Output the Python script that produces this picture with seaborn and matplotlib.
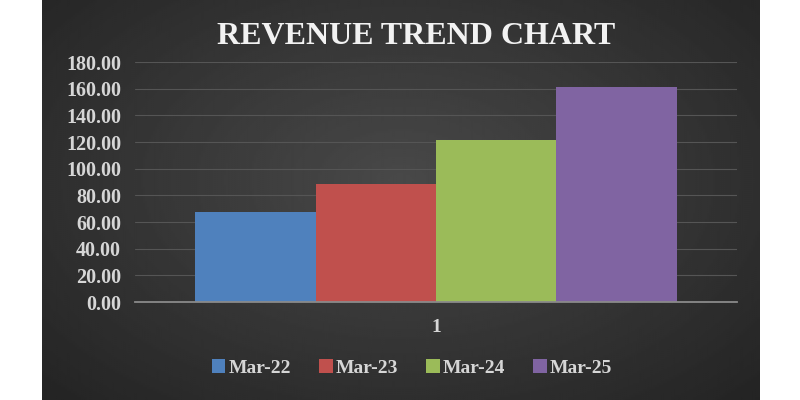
import numpy as np
import pandas as pd
import seaborn as sns
import matplotlib.pyplot as plt

# Data
months = ['Mar-22', 'Mar-23', 'Mar-24', 'Mar-25']
revenue = [67.3, 88.4, 121.4, 161.2]
group = ['1', '1', '1', '1']
colors = ['#4F81BD', '#C0504D', '#9BBB59', '#8064A2']
y_ticks = [0, 20, 40, 60, 80, 100, 120, 140, 160, 180]

df = pd.DataFrame({'group': group, 'month': months, 'revenue': revenue})

sns.set_theme(style='dark')
plt.rcParams['font.family'] = ['Liberation Serif', 'DejaVu Serif']
plt.rcParams['font.weight'] = 'bold'

fig = plt.figure(figsize=(8, 4), dpi=100, facecolor='white')

# dark radial background panel
bg = fig.add_axes([42 / 800, 0, 718 / 800, 1])
yy, xx = np.mgrid[0:1:200j, 0:1:360j]
r = np.sqrt(((xx - 0.5) / 0.5) ** 2 + ((yy - 0.45) / 0.55) ** 2) / np.sqrt(2)
r = np.clip(r, 0, 1)
shade = 0.285 * (1 - r) + 0.14 * r
bg.imshow(shade, cmap='gray', vmin=0, vmax=1, aspect='auto', interpolation='bilinear')
bg.set_axis_off()

ax = fig.add_axes([135 / 800, 1 - 302 / 400, 602 / 800, 240 / 400])
ax.patch.set_alpha(0)

sns.barplot(data=df, x='group', y='revenue', hue='month', palette=colors,
            saturation=1, width=0.8, linewidth=0, ax=ax)

ax.set_xlim(-0.5, 0.5)
ax.set_ylim(0, 180)
ax.set_yticks(y_ticks)
ax.set_yticklabels([f'{v:.2f}' for v in y_ticks])
ax.set_xlabel('')
ax.set_ylabel('')
ax.yaxis.grid(True, color='#555555', lw=0.8)
ax.xaxis.grid(False)
ax.set_axisbelow(True)
for s in ['left', 'right', 'top']:
    ax.spines[s].set_visible(False)
ax.spines['bottom'].set_color('#8a8a8a')
ax.spines['bottom'].set_linewidth(1.3)
ax.tick_params(axis='y', length=0, pad=10, labelsize=14.5, labelcolor='#d6d6d6')
ax.tick_params(axis='x', length=0, pad=12, labelsize=14, labelcolor='#d6d6d6')

handles, labels = ax.get_legend_handles_labels()
ax.legend(handles, labels, loc='center', bbox_to_anchor=(412 / 800, 1 - 368 / 400),
          bbox_transform=fig.transFigure, ncol=4, frameon=False,
          handlelength=0.7, handleheight=0.75, handletextpad=0.15,
          columnspacing=1.45, fontsize=14, labelcolor='#d6d6d6')

fig.text(416 / 800, 1 - 37 / 400, 'REVENUE TREND CHART', ha='center', va='center',
         fontsize=23, fontweight='bold', color='#f2f2f2')

fig.savefig('out.png', dpi=100, facecolor='white')
